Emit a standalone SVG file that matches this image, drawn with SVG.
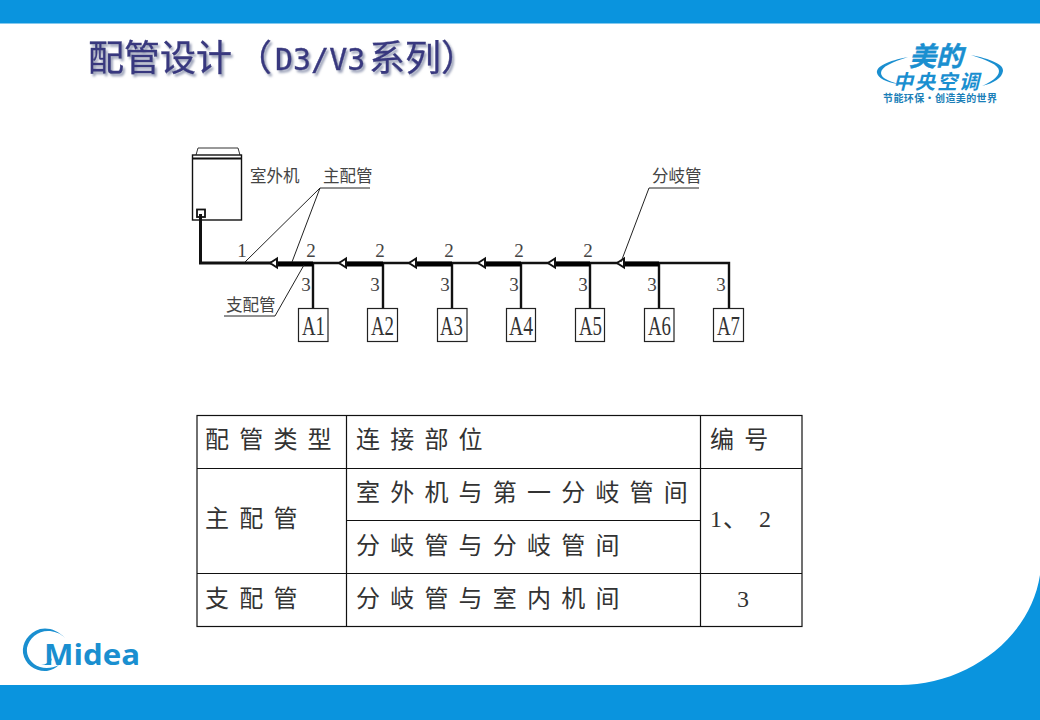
<svg xmlns="http://www.w3.org/2000/svg" width="1040" height="720" viewBox="0 0 1040 720">
<style>
.cjk{font-family:"Noto Sans CJK SC","Noto Sans CJK JP",sans-serif}
.lab{font-family:"Noto Sans CJK SC",sans-serif;font-size:16.500px;fill:#444}
.num{font-family:"Liberation Serif",serif;font-size:19px;fill:#444;text-anchor:middle}
.box{fill:#fff;stroke:#222;stroke-width:1.2}
.aid{font-family:"Liberation Serif",serif;font-size:27px;fill:#333}
.pipe{fill:none;stroke:#111;stroke-width:2.4}
.thick{fill:none;stroke:#000;stroke-width:5}
.lead{fill:none;stroke:#222;stroke-width:1}
.arr{fill:#fff;stroke:#111;stroke-width:2}
.tb{fill:none;stroke:#111;stroke-width:1.2}
.tt{font-family:"Noto Sans CJK SC",sans-serif;font-size:24px;letter-spacing:10.2px;fill:#333}
.ser{font-family:"Liberation Serif",serif}
.title{font-size:36px;fill:#38387f;stroke:#38387f;stroke-width:.4;filter:url(#sh)}
.blue{fill:#1a8fd0}
</style>
<defs>
<filter id="sh" x="-10%" y="-20%" width="120%" height="150%"><feDropShadow dx="2" dy="2.5" stdDeviation="1.2" flood-color="#9aa0b8"/></filter>
</defs>
<rect width="1040" height="720" fill="#fff"/>
<g id="frame">
<rect width="1040" height="23.5" fill="#0a94de"/>
<path d="M0 685H900C965 685 1030 640 1040 575V720H0Z" fill="#0a94de"/>
</g>
<g id="title">
<text class="title cjk" x="88" y="71">配管设计</text>
<text class="title cjk" x="236" y="71">（</text>
<text class="title" x="275" y="70" style="font-family:'DejaVu Sans Mono',monospace;font-size:30px">D3/V3</text>
<text class="title cjk" x="369" y="71">系列）</text>
</g>
<g id="logo-top">
<path class="blue" d="M908 57C888 61 876 66 877 73C878 78 886 82 898 84C889 81 881 78 881 73C881 67 892 62 908 57Z"/>
<path class="blue" d="M971 55C990 59 1004 64 1003 71C1002 78 994 83 982 86C991 82 999 77 999 71C999 65 987 60 971 55Z"/>
<text class="blue cjk" transform="translate(909,66) skewX(-14)" font-size="27" font-weight="700" stroke="#1a8fd0" stroke-width=".4">美的</text>
<text class="blue cjk" transform="translate(893,89) skewX(-14)" font-size="20" font-weight="700" letter-spacing="2">中央空调</text>
<text class="cjk" x="883" y="102" font-size="10" font-weight="700" fill="#1b7fb8" textLength="114">节能环保·创造美的世界</text>
</g>
<g id="logo-midea">
<path class="blue" d="M65 638C58 630 48 627 40 629C28 633 22 643 23 653C25 665 36 672 47 671C52 670 56 668 59 665C53 668 46 669 40 667C31 664 26 656 27 648C29 638 38 631 48 631C54 631 60 633 65 638Z"/>
<path class="blue" d="M41 665C46 665 49 662 52 658L50 665Z"/>
<text class="blue" x="44" y="664.500" style="font-family:'Open Sans',sans-serif;font-weight:700;font-size:29px" textLength="96" lengthAdjust="spacingAndGlyphs">Midea</text>
</g>
<g id="outdoor-unit">
<path fill="none" stroke="#333" stroke-width="1" d="M196 155L198 148H238L240 155"/>
<rect x="192.500" y="155" width="49" height="65" fill="#fff" stroke="#111" stroke-width="1.400"/>
<path stroke="#111" stroke-width="2" d="M193 158.500H241"/>
<rect x="197" y="209.500" width="8" height="7.500" fill="#fff" stroke="#111" stroke-width="1.800"/>
<text class="lab" x="250" y="182">室外机</text>
</g>
<g id="connectors">
<path class="pipe" style="stroke-width:3" d="M200.500 214V263H278"/>
<path class="pipe" d="M278 263H729V308"/>
<path class="pipe" d="M313 263V308M383 263V308M452 263V308M521 263V308M590 263V308M659 263V308"/>
<path class="thick" d="M278 264H313M346 264H383M416 264H452M485 264H521M555 264H590M624 264H659"/>
<g class="arr">
<path d="M270 263L277 258.500V267.500Z"/>
<path d="M339 263L346 258.500V267.500Z"/>
<path d="M409 263L416 258.500V267.500Z"/>
<path d="M478 263L485 258.500V267.500Z"/>
<path d="M548 263L555 258.500V267.500Z"/>
<path d="M617 263L624 258.500V267.500Z"/>
</g>
<path class="lead" d="M245 262L320 188H370M292 262L320 188"/>
<path class="lead" d="M224 316H275L304 265"/>
<path class="lead" d="M699 188H649L621 262"/>
</g>
<g id="labels">
<text class="lab" x="323" y="182">主配管</text>
<text class="lab" x="652" y="182">分岐管</text>
<text class="lab" x="226" y="311">支配管</text>
<text class="num" x="242" y="257">1</text>
<text class="num" x="311" y="257">2</text><text class="num" x="380" y="257">2</text><text class="num" x="449" y="257">2</text><text class="num" x="519" y="257">2</text><text class="num" x="588" y="257">2</text>
<text class="num" x="306" y="291">3</text><text class="num" x="375" y="291">3</text><text class="num" x="445" y="291">3</text><text class="num" x="514" y="291">3</text><text class="num" x="583" y="291">3</text><text class="num" x="652" y="291">3</text><text class="num" x="721" y="291">3</text>
</g>
<g id="A1"><rect class="box" x="298.500" y="308.500" width="29.500" height="33"/><text class="aid" x="302" y="335" textLength="23" lengthAdjust="spacingAndGlyphs">A1</text></g>
<g id="A2"><rect class="box" x="367.500" y="308.500" width="30" height="33"/><text class="aid" x="371" y="335" textLength="23" lengthAdjust="spacingAndGlyphs">A2</text></g>
<g id="A3"><rect class="box" x="437.500" y="308.500" width="29.500" height="33"/><text class="aid" x="440" y="335" textLength="23" lengthAdjust="spacingAndGlyphs">A3</text></g>
<g id="A4"><rect class="box" x="506.500" y="308.500" width="29" height="33"/><text class="aid" x="509" y="335" textLength="24" lengthAdjust="spacingAndGlyphs">A4</text></g>
<g id="A5"><rect class="box" x="575.500" y="308.500" width="29" height="33"/><text class="aid" x="579" y="335" textLength="23" lengthAdjust="spacingAndGlyphs">A5</text></g>
<g id="A6"><rect class="box" x="644.500" y="308.500" width="29.500" height="33"/><text class="aid" x="648" y="335" textLength="23" lengthAdjust="spacingAndGlyphs">A6</text></g>
<g id="A7"><rect class="box" x="713.500" y="308.500" width="30" height="33"/><text class="aid" x="717" y="335" textLength="23" lengthAdjust="spacingAndGlyphs">A7</text></g>
<g id="table">
<rect class="tb" x="197" y="415.500" width="605" height="211"/>
<path class="tb" d="M346.500 415.500V626.500M700.500 415.500V626.500M197 468.500H802M197 573.500H802M346.500 520.500H700.500"/>
<text class="tt" x="205" y="448">配管类型</text>
<text class="tt" x="356" y="448">连接部位</text>
<text class="tt" x="710" y="448">编号</text>
<text class="tt" x="205" y="527">主配管</text>
<text class="tt" x="356" y="501">室外机与第一分岐管间</text>
<text class="tt" x="356" y="554">分岐管与分岐管间</text>
<text class="tt" y="527" style="letter-spacing:0"><tspan class="ser" x="710">1</tspan><tspan x="723">、</tspan><tspan class="ser" x="759">2</tspan></text>
<text class="tt ser" x="737" y="607" style="font-family:'Liberation Serif',serif">3</text>
<text class="tt" x="205" y="607">支配管</text>
<text class="tt" x="356" y="607">分岐管与室内机间</text>
</g>
</svg>
